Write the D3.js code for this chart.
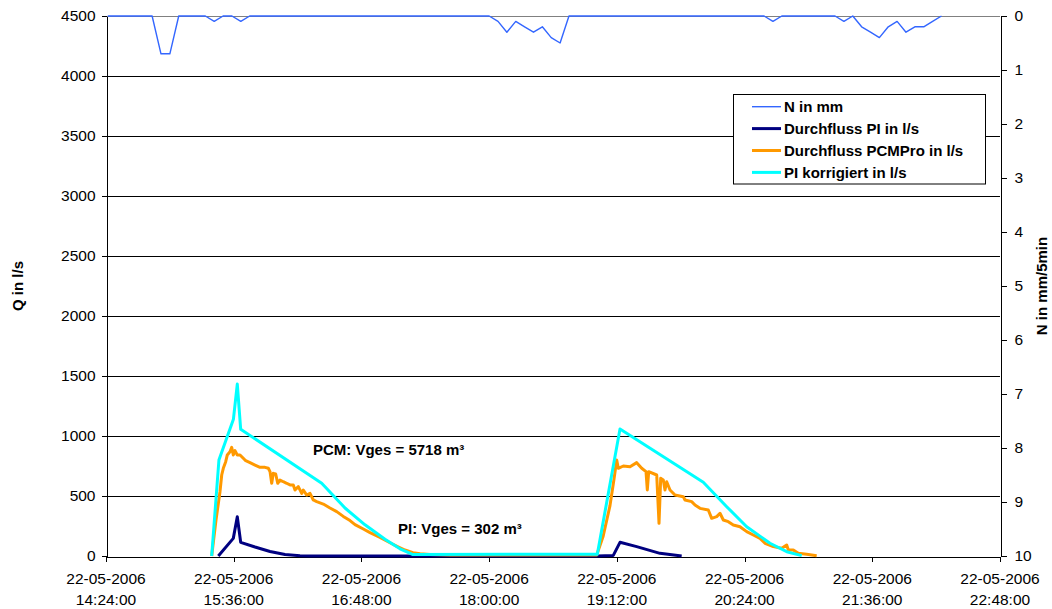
<!DOCTYPE html>
<html><head><meta charset="utf-8">
<script src="https://cdn.jsdelivr.net/npm/d3@7"></script>
<style>
body{margin:0;background:#fff}
svg{display:block}
text{font-family:"Liberation Sans",Arial,sans-serif;fill:#000}
</style>
</head><body>
<svg id="c" width="1052" height="609"></svg>
<script>
// ---------- data ----------
const dateLabel = "22-05-2006";
const xTickTimes = ["14:24:00","15:36:00","16:48:00","18:00:00","19:12:00","20:24:00","21:36:00","22:48:00"];
const qTicks = [0,500,1000,1500,2000,2500,3000,3500,4000,4500];
const nTicks = [0,1,2,3,4,5,6,7,8,9,10];

// rain N in mm per 5 min, starting 14:25, one value every 5 minutes
const rainStart = "14:25:00";
const rainStepMin = 5;
const rainValues = [
  0,0,0,0,0,0,0.7,
  0.7,0,0,0,0,0.1,0,0,0.1,0,0,0,
  0,0,0,0,0,0,0,0,0,0,0,0,
  0,0,0,0,0,0,0,0,0,0,0,0,
  0,0.1,0.3,0.1,0.2,0.3,0.2,0.4,0.5,0,0,0,
  0,0,0,0,0,0,0,0,0,0,0,0,
  0,0,0,0,0,0,0,0,0.1,0,0,0,
  0,0,0,0,0.1,0,0.2,0.3,0.4,0.2,0.1,0.3,
  0.2,0.2,0.1,0
];

// Durchfluss PI in l/s
const piFlow = [
  ["15:27:19",0],["15:35:46",147],["15:38:01",327],["15:39:56",114],["15:48:00",75],
  ["15:56:28",38],["16:04:55",12],["16:13:22",3],["16:19:01",0],["19:00:49",0],
  ["19:10:00",5],["19:13:46",114],["19:23:11",78],["19:36:19",22],["19:48:33",0]
];

// Durchfluss PCMPro in l/s
const pcmFlow = [
  ["15:23:35",0],["15:26:01",300],["15:28:16",536],["15:29:14",675],["15:30:08",731],
  ["15:31:29",786],["15:32:23",842],["15:33:54",869],["15:34:52",906],["15:35:46",842],
  ["15:36:44",878],["15:38:01",842],["15:39:33",842],["15:41:24",814],["15:42:45",794],
  ["15:45:11",778],["15:48:00",758],["15:50:49",739],["15:53:38",739],["15:55:30",731],
  ["15:56:28",703],["15:57:25",606],["15:58:19",689],["15:59:40",683],["16:00:48",606],
  ["16:02:05",633],["16:03:57",619],["16:05:52",606],["16:07:44",592],["16:09:35",592],
  ["16:10:33",550],["16:12:25",578],["16:14:20",522],["16:15:14",550],["16:17:09",508],
  ["16:19:01",522],["16:20:52",467],["16:22:47",453],["16:26:30",433],["16:30:17",400],
  ["16:34:04",370],["16:37:47",330],["16:41:34",295],["16:44:23",262],["16:49:04",225],
  ["16:52:50",195],["16:58:28",155],["17:04:07",110],["17:08:03",80],["17:12:34",50],
  ["17:17:04",28],["17:21:01",18],["17:26:40",12],["17:37:56",8],["17:54:51",8],
  ["18:28:40",8],["19:00:38",8],
  ["19:04:11",160],["19:08:08",420],["19:10:23",640],["19:11:55",800],["19:12:49",731],
  ["19:15:38",750],["19:19:25",744],["19:23:11",778],["19:26:01",731],["19:28:26",703],
  ["19:29:10",550],["19:29:57",703],["19:34:28",675],["19:35:46",272],["19:36:43",647],
  ["19:38:11",633],["19:39:08",550],["19:40:06",619],["19:41:58",550],["19:44:47",508],
  ["19:49:28",494],["19:50:25",467],["19:54:11",453],["19:56:03",425],["19:58:52",397],
  ["20:03:33",383],["20:05:28",314],["20:08:17",328],["20:10:09",356],["20:12:01",300],
  ["20:14:50",286],["20:17:39",258],["20:21:25",244],["20:25:12",203],["20:28:55",175],
  ["20:32:42",147],["20:35:31",106],["20:40:12",78],["20:44:56",64],["20:47:45",92],
  ["20:48:40",50],["20:51:28",50],["20:54:17",22],["20:59:02",14],["21:04:40",3]
];

// PI korrigiert in l/s
const piCorrected = [
  ["15:23:35",0],["15:27:40",800],["15:35:50",1140],["15:38:01",1433],["15:39:56",1056],
  ["16:25:36",606],["16:38:44",400],["16:50:01",260],["17:01:17",140],["17:09:45",60],
  ["17:17:04",12],["19:00:59",15],["19:13:46",1058],["20:00:44",614],["20:13:56",411],
  ["20:25:12",244],["20:38:20",106],["20:47:45",36],["20:56:13",3]
];

const legendNames = ["N in mm","Durchfluss PI in l/s","Durchfluss PCMPro in l/s","PI korrigiert in l/s"];
const colors = ["#3366FF","#000080","#FF9900","#00FFFF"];
const annotations = [
  {text:"PCM: Vges = 5718 m³", t:"16:20:40", v:840},
  {text:"PI: Vges = 302 m³", t:"17:08:36", v:187}
];

// ---------- chart ----------
const svg = d3.select("#c");
const L = 106, R = 1000, T = 16, B = 556;
const FS = 15.5;
const parse = d3.timeParse("%H:%M:%S");
const x = d3.scaleTime().domain([parse("14:24:00"), parse("22:48:00")]).range([L, R]);
const yQ = d3.scaleLinear().domain([0, 4500]).range([B, T]);
const yN = d3.scaleLinear().domain([0, 10]).range([T, B]);

// grid
svg.append("g").selectAll("line").data(qTicks.filter(d => d > 0)).join("line")
  .attr("x1", L).attr("x2", R)
  .attr("y1", d => Math.round(yQ(d)) + 0.5).attr("y2", d => Math.round(yQ(d)) + 0.5)
  .attr("stroke", d => d === 4500 ? "#808080" : "#000").attr("stroke-width", 1);

// axes
const gl = svg.append("g").attr("transform", `translate(${L + 0.5},0)`)
  .call(d3.axisLeft(yQ).tickValues(qTicks).tickFormat(d3.format("d")).tickSize(5).tickPadding(6).tickSizeOuter(0));
const gr = svg.append("g").attr("transform", `translate(${R + 0.5},0)`)
  .call(d3.axisRight(yN).tickValues(nTicks).tickFormat(d3.format("d")).tickSize(6).tickPadding(8).tickSizeOuter(0));
const gb = svg.append("g").attr("transform", `translate(0,${B + 0.5})`)
  .call(d3.axisBottom(x).tickValues(xTickTimes.map(parse)).tickSize(5).tickSizeOuter(0).tickFormat(""));
[gl, gr, gb].forEach(g => {
  g.selectAll("path,line").attr("stroke", "#000").attr("shape-rendering", "crispEdges");
  g.selectAll("text").attr("font-size", FS).attr("font-family", '"Liberation Sans",Arial,sans-serif');
});

// x tick labels (two lines)
const fmt = d3.timeFormat("%H:%M:%S");
const xl = svg.append("g").selectAll("text").data(xTickTimes.map(parse)).join("text")
  .attr("text-anchor", "middle").attr("font-size", FS);
xl.append("tspan").attr("x", d => x(d)).attr("y", 584).text(dateLabel);
xl.append("tspan").attr("x", d => x(d)).attr("y", 605).text(d => fmt(d));

// axis titles
svg.append("text").attr("transform", `translate(23,${(T + B) / 2}) rotate(-90)`)
  .attr("text-anchor", "middle").attr("font-size", 15).attr("font-weight", "bold").text("Q in l/s");
svg.append("text").attr("transform", `translate(1047,${(T + B) / 2}) rotate(-90)`)
  .attr("text-anchor", "middle").attr("font-size", 15).attr("font-weight", "bold").text("N in mm/5min");

// series
const t0 = parse(rainStart);
const rain = rainValues.map((v, i) => ({t: d3.timeMinute.offset(t0, i * rainStepMin), v}));
const toPts = arr => arr.map(([t, v]) => ({t: parse(t), v}));
const lineQ = d3.line().x(d => x(d.t)).y(d => yQ(d.v));
const lineN = d3.line().x(d => x(d.t)).y(d => yN(d.v));

svg.append("path").datum(rain).attr("d", lineN).attr("fill", "none")
  .attr("stroke", colors[0]).attr("stroke-width", 1.4).attr("stroke-linejoin", "round");
[[piFlow, colors[1]], [pcmFlow, colors[2]], [piCorrected, colors[3]]].forEach(([arr, c]) => {
  svg.append("path").datum(toPts(arr)).attr("d", lineQ).attr("fill", "none")
    .attr("stroke", c).attr("stroke-width", 3).attr("stroke-linejoin", "round");
});

// annotations
annotations.forEach(a => {
  svg.append("text").attr("x", x(parse(a.t))).attr("y", yQ(a.v))
    .attr("font-size", 15).attr("font-weight", "bold").text(a.text);
});

// legend
const lg = svg.append("g");
lg.append("rect").attr("x", 733.5).attr("y", 94.5).attr("width", 252).attr("height", 89.5)
  .attr("fill", "#fff").attr("stroke", "#000").attr("stroke-width", 1);
legendNames.forEach((n, i) => {
  const yy = 106.7 + i * 21.9;
  lg.append("line").attr("x1", 752).attr("x2", 781).attr("y1", yy).attr("y2", yy)
    .attr("stroke", colors[i]).attr("stroke-width", i === 0 ? 1.4 : 3);
  lg.append("text").attr("x", 784).attr("y", yy + 5.3).attr("font-size", 15)
    .attr("font-weight", "bold").text(n);
});
</script>
</body></html>
